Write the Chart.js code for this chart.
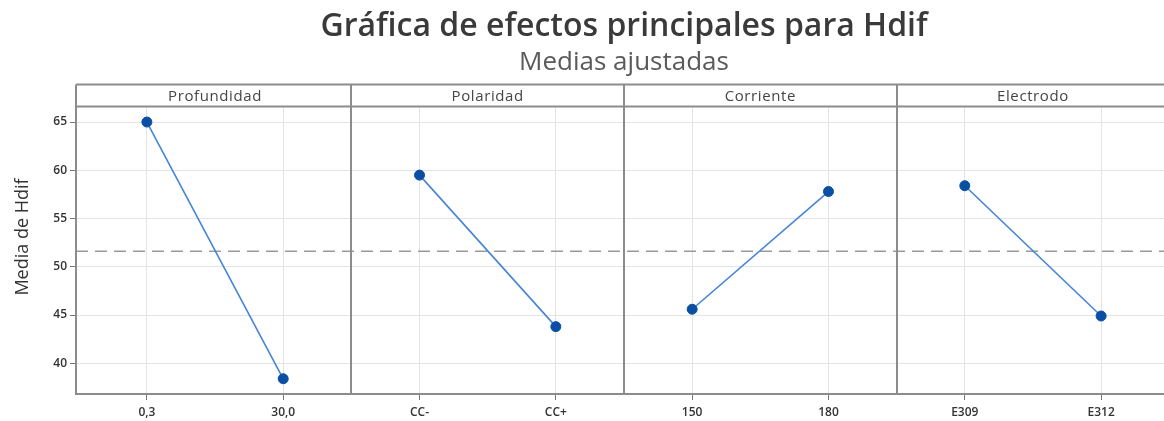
<!DOCTYPE html>
<html lang="es">
<head>
<meta charset="utf-8">
<title>Gráfica de efectos principales para Hdif</title>
<script src="https://cdn.jsdelivr.net/npm/chart.js@4/dist/chart.umd.min.js"></script>
<style>
  html, body { margin: 0; padding: 0; background: #fff; overflow: hidden; }
  #wrap { width: 1178px; height: 421px; position: relative; }
</style>
</head>
<body>
<div id="wrap"><canvas id="efectos"></canvas></div>
<script>
// Factors of the experiment and the labels of their two levels
const factors = ['Profundidad', 'Polaridad', 'Corriente', 'Electrodo'];
const levelLabels = ['0,3', '30,0', 'CC-', 'CC+', '150', '180', 'E309', 'E312'];

// Adjusted means of Hdif for each level
const profundidad = [65.0, 38.4];
const polaridad = [59.5, 43.8];
const corriente = [45.6, 57.8];
const electrodo = [58.4, 44.9];

// Overall mean (dashed reference line) and y tick values
const grandMean = 51.6;
const yTicks = [40, 45, 50, 55, 60, 65];

const seriesByFactor = [profundidad, polaridad, corriente, electrodo];

// Each factor occupies two consecutive positions on a shared x scale
const datasets = seriesByFactor.map((vals, i) => ({
  label: factors[i],
  data: vals.map((v, j) => ({ x: i * 2 + j + 1, y: v })),
  borderColor: '#4585d4',
  borderWidth: 1.6,
  pointRadius: 5,
  pointHoverRadius: 5,
  pointBackgroundColor: '#0a4fa3',
  pointBorderColor: '#0a4fa3',
  pointBorderWidth: 1,
  tension: 0
}));

const FONT = '"Open Sans", "Noto Sans", sans-serif';
const FRAME = '#8c8c8c';
const HEADER_H = 22;

const panelsPlugin = {
  id: 'panels',
  beforeDatasetsDraw(chart) {
    const { ctx, chartArea: a, scales: { y } } = chart;
    const yy = y.getPixelForValue(grandMean);
    ctx.save();
    ctx.strokeStyle = '#9a9a9a';
    ctx.lineWidth = 1.5;
    ctx.setLineDash([12, 7]);
    ctx.beginPath();
    ctx.moveTo(a.left, yy);
    ctx.lineTo(a.right, yy);
    ctx.stroke();
    ctx.restore();
  },
  afterDraw(chart) {
    const { ctx, chartArea: a, scales: { x } } = chart;
    const hTop = a.top - HEADER_H;
    ctx.save();
    ctx.strokeStyle = FRAME;
    ctx.lineWidth = 2;
    ctx.beginPath();
    ctx.moveTo(a.left, hTop); ctx.lineTo(a.right, hTop);
    ctx.moveTo(a.left, a.top); ctx.lineTo(a.right, a.top);
    ctx.moveTo(a.left, hTop); ctx.lineTo(a.left, a.bottom);
    [2.5, 4.5, 6.5].forEach(v => {
      const px = Math.round(x.getPixelForValue(v));
      ctx.moveTo(px, hTop); ctx.lineTo(px, a.bottom);
    });
    ctx.stroke();

    // Factor names in the header strip
    ctx.fillStyle = '#454545';
    ctx.font = '15px ' + FONT;
    if ('letterSpacing' in ctx) ctx.letterSpacing = '0.6px';
    ctx.textAlign = 'center';
    ctx.textBaseline = 'middle';
    factors.forEach((f, i) => {
      ctx.fillText(f, x.getPixelForValue(i * 2 + 1.5), hTop + HEADER_H / 2 + 1);
    });
    if ('letterSpacing' in ctx) ctx.letterSpacing = '0px';

    // Y axis title
    ctx.translate(23, 237);
    ctx.rotate(-Math.PI / 2);
    ctx.fillStyle = '#333';
    ctx.font = '18px ' + FONT;
    ctx.fillText('Media de Hdif', 0, 0);
    ctx.restore();
  }
};

new Chart(document.getElementById('efectos'), {
  type: 'line',
  data: { datasets },
  plugins: [panelsPlugin],
  options: {
    responsive: true,
    maintainAspectRatio: false,
    animation: false,
    layout: { padding: 0 },
    plugins: {
      legend: { display: false },
      tooltip: { enabled: false },
      title: {
        display: true,
        fullSize: false,
        text: 'Gráfica de efectos principales para Hdif',
        color: '#3a3a3a',
        font: { family: FONT, size: 32, weight: '600', lineHeight: 1.2 },
        padding: { top: 8, bottom: 0 }
      },
      subtitle: {
        display: true,
        fullSize: false,
        text: 'Medias ajustadas',
        color: '#5a5a5a',
        font: { family: FONT, size: 26, weight: '400', lineHeight: 1.0 },
        padding: { top: 3, bottom: 31 }
      }
    },
    scales: {
      x: {
        type: 'linear',
        min: 0.48,
        max: 8.52,
        afterBuildTicks: s => { s.ticks = levelLabels.map((_, i) => ({ value: i + 1 })); },
        afterFit: s => { s.height = 27; },
        ticks: {
          autoSkip: false,
          maxRotation: 0,
          padding: 5,
          color: '#333',
          font: { family: FONT, size: 12, weight: '600' },
          callback: v => levelLabels[Math.round(v) - 1]
        },
        grid: { color: '#e4e4e4', lineWidth: 1, tickLength: 6, tickColor: '#777', drawTicks: true },
        border: { color: FRAME, width: 2 }
      },
      y: {
        min: 36.82,
        max: 66.62,
        afterBuildTicks: s => { s.ticks = yTicks.map(v => ({ value: v })); },
        afterFit: s => { s.width = 76; },
        ticks: {
          padding: 3,
          color: '#333',
          font: { family: FONT, size: 12, weight: '600' }
        },
        grid: { color: '#e4e4e4', lineWidth: 1, tickLength: 6, tickColor: '#777', drawTicks: true },
        border: { color: FRAME, width: 2 }
      }
    }
  }
});
</script>
</body>
</html>
